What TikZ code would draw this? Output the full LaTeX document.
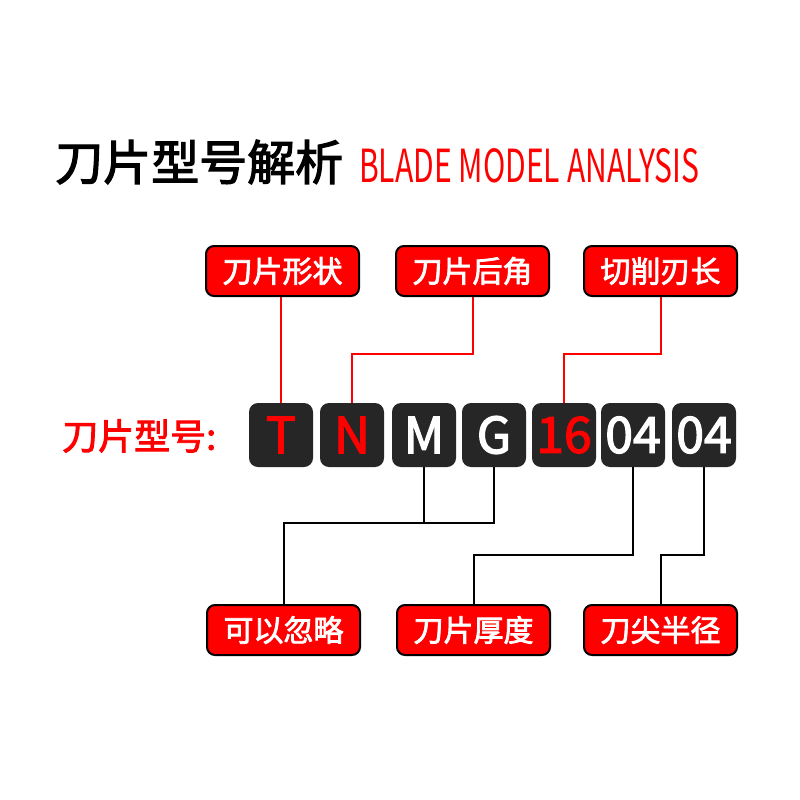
\documentclass[tikz,border=0pt]{standalone}
\usepackage{fontspec}
\setmainfont{Noto Sans CJK SC}
\newfontfamily\medfont{Noto Sans CJK SC}[FakeBold=2.5]
\usepackage{graphicx}
\definecolor{bred}{HTML}{FF0000}
\definecolor{dark}{HTML}{262626}
\begin{document}
\begin{tikzpicture}[x=1pt,y=-1pt,
  lab/.style={draw=black, line width=2pt, fill=bred, rounded corners=8pt,
    minimum width=153pt, minimum height=50pt, inner sep=0pt, text=white,
    font=\fontsize{30}{30}\selectfont\medfont},
  code/.style={fill=dark, rounded corners=9pt, minimum width=64pt,
    minimum height=64pt, inner sep=0pt, font=\fontsize{50}{50}\selectfont\medfont},
  rl/.style={draw=bred, line width=2pt},
  bl/.style={draw=black, line width=2pt}]
\useasboundingbox (0,0) rectangle (800,800);
\node[anchor=west, inner sep=0pt, font=\fontsize{48}{48}\selectfont\medfont] (title) at (55,162) {刀片型号解析};
\node[anchor=south west, inner sep=0pt, text=bred] (en) at (359,183) {\resizebox{340pt}{34pt}{BLADE MODEL ANALYSIS}};
\node[lab] (t1) at (282.5,271) {刀片形状};
\node[lab] (t2) at (472.5,271) {刀片后角};
\node[lab] (t3) at (660.5,271) {切削刃长};
\node[lab] (b1) at (283.5,630) {可以忽略};
\node[lab] (b2) at (473.5,630) {刀片厚度};
\node[lab] (b3) at (660.5,630) {刀尖半径};
\node[anchor=west, inner sep=0pt, text=bred, font=\fontsize{36}{36}\selectfont\medfont] (lbl) at (62,436) {刀片型号:};
\node[code, text=bred] (c1) at (281,435) {T};
\node[code, text=bred] (c2) at (352,435) {N};
\node[code, text=white] (c3) at (424,435) {M};
\node[code, text=white] (c4) at (494,435) {G};
\node[code, text=bred] (c5) at (564,435) {16};
\node[code, text=white] (c6) at (633,435) {04};
\node[code, text=white] (c7) at (704,435) {04};
\draw[rl] (t1.south -| c1.north) -- (c1.north);
\draw[rl] (t2.south) -- ++(0,57) -| (c2.north);
\draw[rl] (t3.south) -- ++(0,57) -| (c5.north);
\draw[bl] (c3.south) -- ++(0,56);
\draw[bl] (c4.south) -- ++(0,56) -| (b1.north);
\draw[bl] (c6.south) -- ++(0,88) -| (b2.north);
\draw[bl] (c7.south) -- ++(0,88) -| (b3.north);
\end{tikzpicture}
\end{document}
